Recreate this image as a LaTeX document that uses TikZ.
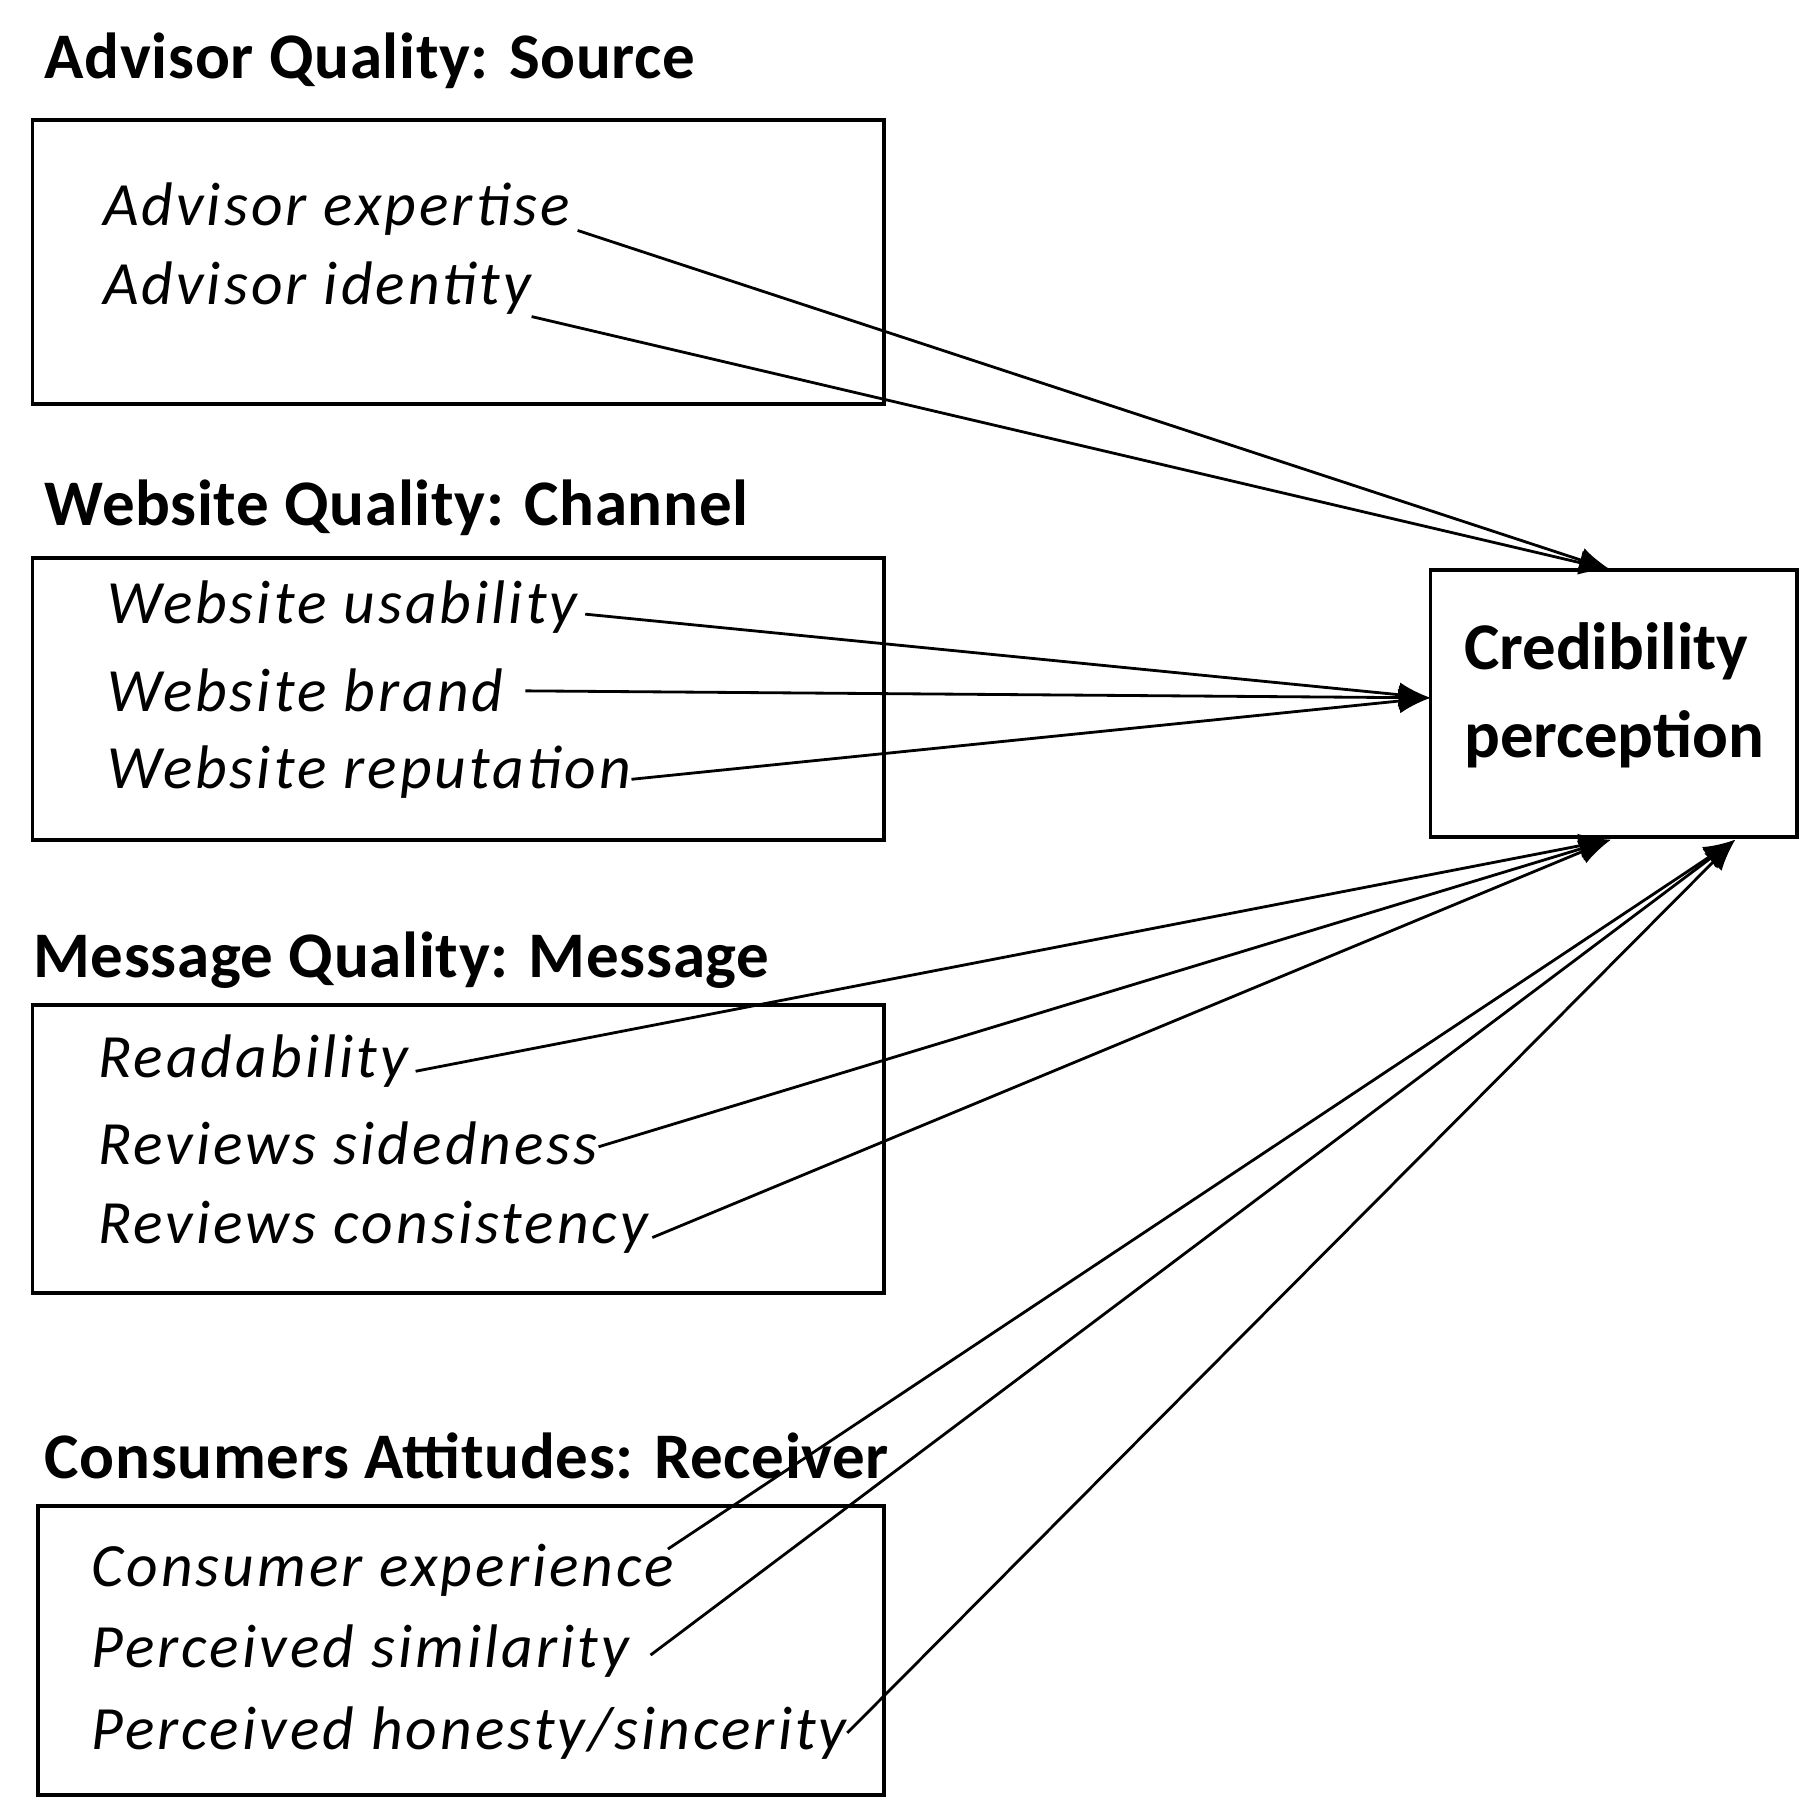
\documentclass[tikz,border=0pt]{standalone}
\usepackage{fontspec}
\setmainfont{Carlito}
\usetikzlibrary{arrows.meta}

\begin{document}
\begin{tikzpicture}
    [x=0.01163cm, y=-0.01163cm,
    group box/.style={line width=1.1pt},
    group title/.style={anchor=west, inner sep=0pt, font=\fontsize{18.5}{20}\selectfont\bfseries\addfontfeature{LetterSpace=1}},
    factor/.style={anchor=west, inner sep=0pt, font=\fontsize{17.5}{20}\selectfont\itshape\addfontfeature{LetterSpace=5}},
    influence/.style={line width=0.8pt, -{Latex[length=9pt,width=7pt]}},
    ]
    \useasboundingbox (0,0) rectangle (1560,1564);

    %outcome
    \draw[group box] (1230,490) rectangle (1545,720);
    \node[align=left, inner sep=0pt, font=\fontsize{19}{25}\selectfont\bfseries] (Credibility) at (1388,598) {Credibility\\perception};
    \coordinate (CredTop) at (1385,490);
    \coordinate (CredLeft) at (1230,600);
    \coordinate (CredBotA) at (1385,722);
    \coordinate (CredBotB) at (1492,722);

    %source
    \node[group title] (SourceTitle) at (38,52) {Advisor Quality: Source};
    \draw[group box] (28,103) rectangle (760,347);
    \node[factor] (Expertise) at (88,180) {Advisor expertise};
    \node[factor] (Identity) at (88,248) {Advisor identity};

    %channel
    \node[group title] (ChannelTitle) at (38,437) {Website Quality: Channel};
    \draw[group box] (28,480) rectangle (760,722);
    \node[factor] (Usability) at (92,522) {Website usability};
    \node[factor] (Brand) at (92,594) {Website brand};
    \node[factor] (Reputation) at (92,664) {Website reputation};

    %message
    \node[group title] (MessageTitle) at (28,826) {Message Quality: Message};
    \draw[group box] (28,864) rectangle (760,1112);
    \node[factor] (Readability) at (84,912) {Readability};
    \node[factor] (Sidedness) at (84,983) {Reviews sidedness};
    \node[factor] (Consistency) at (84,1055) {Reviews consistency};

    %receiver
    \node[group title] (ReceiverTitle) at (38,1252) {Consumers Attitudes: Receiver};
    \draw[group box] (33,1295) rectangle (760,1543);
    \node[factor] (Experience) at (78,1350) {Consumer experience};
    \node[factor] (Similarity) at (78,1420) {Perceived similarity};
    \node[factor] (Honesty) at (78,1490) {Perceived honesty/sincerity};

    %arrows
    \draw[influence] ([xshift=2pt,yshift=-6pt]Expertise.east) -- (CredTop);
    \draw[influence] ([yshift=-8pt]Identity.east) -- (CredTop);
    \draw[influence] ([xshift=2pt,yshift=-2pt]Usability.east) -- (CredLeft);
    \draw[influence] ([xshift=6pt]Brand.east) -- (CredLeft);
    \draw[influence] ([yshift=-2pt]Reputation.east) -- (CredLeft);
    \draw[influence] ([xshift=2pt,yshift=-3pt]Readability.east) -- (CredBotA);
    \draw[influence] ([yshift=-1pt]Sidedness.east) -- (CredBotA);
    \draw[influence] ([xshift=1pt,yshift=-3pt]Consistency.east) -- (CredBotA);
    \draw[influence] ([xshift=-2pt,yshift=6pt]Experience.east) -- (CredBotB);
    \draw[influence] ([xshift=6pt,yshift=-1pt]Similarity.east) -- (CredBotB);
    \draw[influence] ([xshift=0pt]Honesty.east) -- (CredBotB);
\end{tikzpicture}
\end{document}
